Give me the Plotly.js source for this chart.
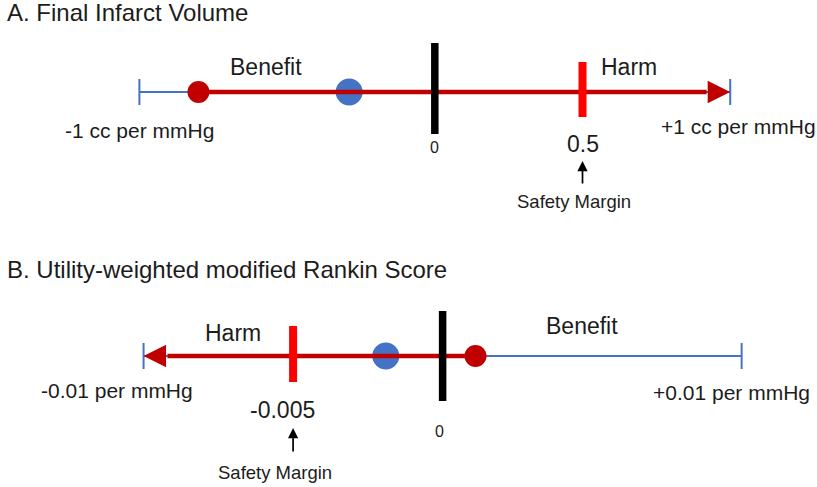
<!DOCTYPE html>
<html>
<head>
<meta charset="utf-8">
<script src="https://cdn.plot.ly/plotly-3.0.1.min.js"></script>
<style>html,body{margin:0;padding:0;background:#fff;}#chart{width:817px;height:487px;}</style>
</head>
<body>
<div id="chart"></div>
<script>
// ---- Data ----
const panelTitles = ['A. Final Infarct Volume', 'B. Utility-weighted modified Rankin Score'];
const scaleEnds = [[-1, 1], [-0.01, 0.01]];            // per mmHg
const endLabels = [['-1 cc per mmHg', '+1 cc per mmHg'], ['-0.01 per mmHg', '+0.01 per mmHg']];
const zeroValues = [0, 0];
const safetyMargins = [0.5, -0.005];
const safetyLabels = ['0.5', '-0.005'];
const redEstimates = [-0.8, 0.0011];
const blueEstimates = [-0.29, -0.0019];
const harmEnds = [1, -0.01];                              // direction of harm arrow
const sideLabels = [['Benefit', 'Harm'], ['Harm', 'Benefit']];

// ---- Styling / layout ----
const W = 817, H = 487;
const px = p => p / W, py = p => 1 - p / H;
const BLUE = '#4472c4', DARKRED = '#c00000', RED = '#ff0000', TXT = '#1c1c1c';
const FONT = 'Liberation Sans, Arial, Helvetica, sans-serif';
const axisRanges = [[-1.4719, 1.2938], [-0.014801, 0.012520]];
const yDomains = [[1 - 142 / H, 1 - 42 / H], [1 - 406 / H, 1 - 306 / H]];
const blackBar = [[-42, 49], [-45, 45]];
const safetyBar = [[-25, 30], [-26, 30]];
const tick = 13;

const traces = [];
const annotations = [];
for (let i = 0; i < 2; i++) {
  const xa = i === 0 ? 'x' : 'x2', ya = i === 0 ? 'y' : 'y2';
  const [lo, hi] = scaleEnds[i];
  const base = { xaxis: xa, yaxis: ya, hoverinfo: 'skip', showlegend: false };
  traces.push(Object.assign({ x: [lo, hi], y: [0, 0], mode: 'lines', line: { color: BLUE, width: 2 } }, base));
  traces.push(Object.assign({ x: [lo, lo, null, hi, hi], y: [-tick, tick, null, -tick, tick], mode: 'lines', line: { color: BLUE, width: 2 } }, base));
  traces.push(Object.assign({ x: [blueEstimates[i]], y: [0], mode: 'markers', marker: { color: BLUE, size: 27 } }, base));
  const span = hi - lo;
  const dir = Math.sign(harmEnds[i] - redEstimates[i]);
  const tail = harmEnds[i] - dir * span * 0.04;
  traces.push(Object.assign({ x: [redEstimates[i], tail], y: [0, 0], mode: 'lines', line: { color: DARKRED, width: 4.5 } }, base));
  traces.push(Object.assign({ x: [redEstimates[i]], y: [0], mode: 'markers', marker: { color: DARKRED, size: 22 } }, base));
  traces.push(Object.assign({ x: [safetyMargins[i], safetyMargins[i]], y: safetyBar[i], mode: 'lines', line: { color: RED, width: 8 } }, base));
  traces.push(Object.assign({ x: [zeroValues[i], zeroValues[i]], y: blackBar[i], mode: 'lines', line: { color: '#000', width: 7.5 } }, base));

  // harm arrowhead
  annotations.push({ x: harmEnds[i], y: 0, xref: xa, yref: ya, ax: tail, ay: 0, axref: xa, ayref: ya,
    showarrow: true, arrowhead: 2, arrowsize: 1.0, arrowwidth: 4.5, arrowcolor: DARKRED, text: '' });
}

const txt = (text, x, y, size, extra) => Object.assign({ text, x, y, xref: 'paper', yref: 'paper', showarrow: false,
  xanchor: 'center', yanchor: 'middle', font: { family: FONT, size, color: TXT } }, extra || {});

annotations.push(txt(panelTitles[0], px(5), py(12.5), 24, { xanchor: 'left' }));
annotations.push(txt(panelTitles[1], px(5), py(269), 24, { xanchor: 'left' }));
annotations.push(txt(sideLabels[0][0], px(266), py(66.5), 23));
annotations.push(txt(sideLabels[0][1], px(629), py(67.5), 23));
annotations.push(txt(endLabels[0][0], px(139), py(130), 21));
annotations.push(txt(endLabels[0][1], px(738), py(127), 21));
annotations.push(txt('0', zeroValues[0], py(147.5), 16, { xref: 'x' }));
annotations.push(txt(safetyLabels[0], safetyMargins[0], py(144), 23, { xref: 'x' }));
annotations.push(txt('Safety Margin', safetyMargins[0], py(201.5), 18.5, { xref: 'x', xshift: -9 }));
annotations.push(txt(sideLabels[1][0], px(232.5), py(332.5), 23));
annotations.push(txt(sideLabels[1][1], px(582), py(325.5), 23));
annotations.push(txt(endLabels[1][0], px(117), py(390), 21));
annotations.push(txt(endLabels[1][1], px(731), py(392), 21));
annotations.push(txt(safetyLabels[1], safetyMargins[1], py(410), 23, { xref: 'x2', xshift: -11 }));
annotations.push(txt('Safety Margin', safetyMargins[1], py(472.5), 18.5, { xref: 'x2', xshift: -18 }));
annotations.push(txt('0', zeroValues[1], py(431.5), 16, { xref: 'x2', xshift: -3 }));

// safety margin pointer arrows
annotations.push({ x: safetyMargins[0], y: py(161), xref: 'x', yref: 'paper', ax: 0, ay: 24, showarrow: true,
  arrowhead: 2, arrowsize: 1.2, arrowwidth: 1.7, arrowcolor: '#000', text: '' });
annotations.push({ x: safetyMargins[1], y: py(428), xref: 'x2', yref: 'paper', ax: 0, ay: 25, showarrow: true,
  arrowhead: 2, arrowsize: 1.2, arrowwidth: 1.7, arrowcolor: '#000', text: '' });

const hidden = { visible: false, fixedrange: true };
const layout = {
  width: W, height: H, margin: { l: 0, r: 0, t: 0, b: 0, pad: 0 },
  paper_bgcolor: '#fff', plot_bgcolor: 'rgba(0,0,0,0)', hovermode: false, showlegend: false,
  xaxis: Object.assign({ domain: [0, 1], range: axisRanges[0], anchor: 'y' }, hidden),
  yaxis: Object.assign({ domain: yDomains[0], range: [-50, 50], anchor: 'x' }, hidden),
  xaxis2: Object.assign({ domain: [0, 1], range: axisRanges[1], anchor: 'y2' }, hidden),
  yaxis2: Object.assign({ domain: yDomains[1], range: [-50, 50], anchor: 'x2' }, hidden),
  annotations
};
Plotly.newPlot('chart', traces, layout, { displayModeBar: false, staticPlot: true });
</script>
</body>
</html>
